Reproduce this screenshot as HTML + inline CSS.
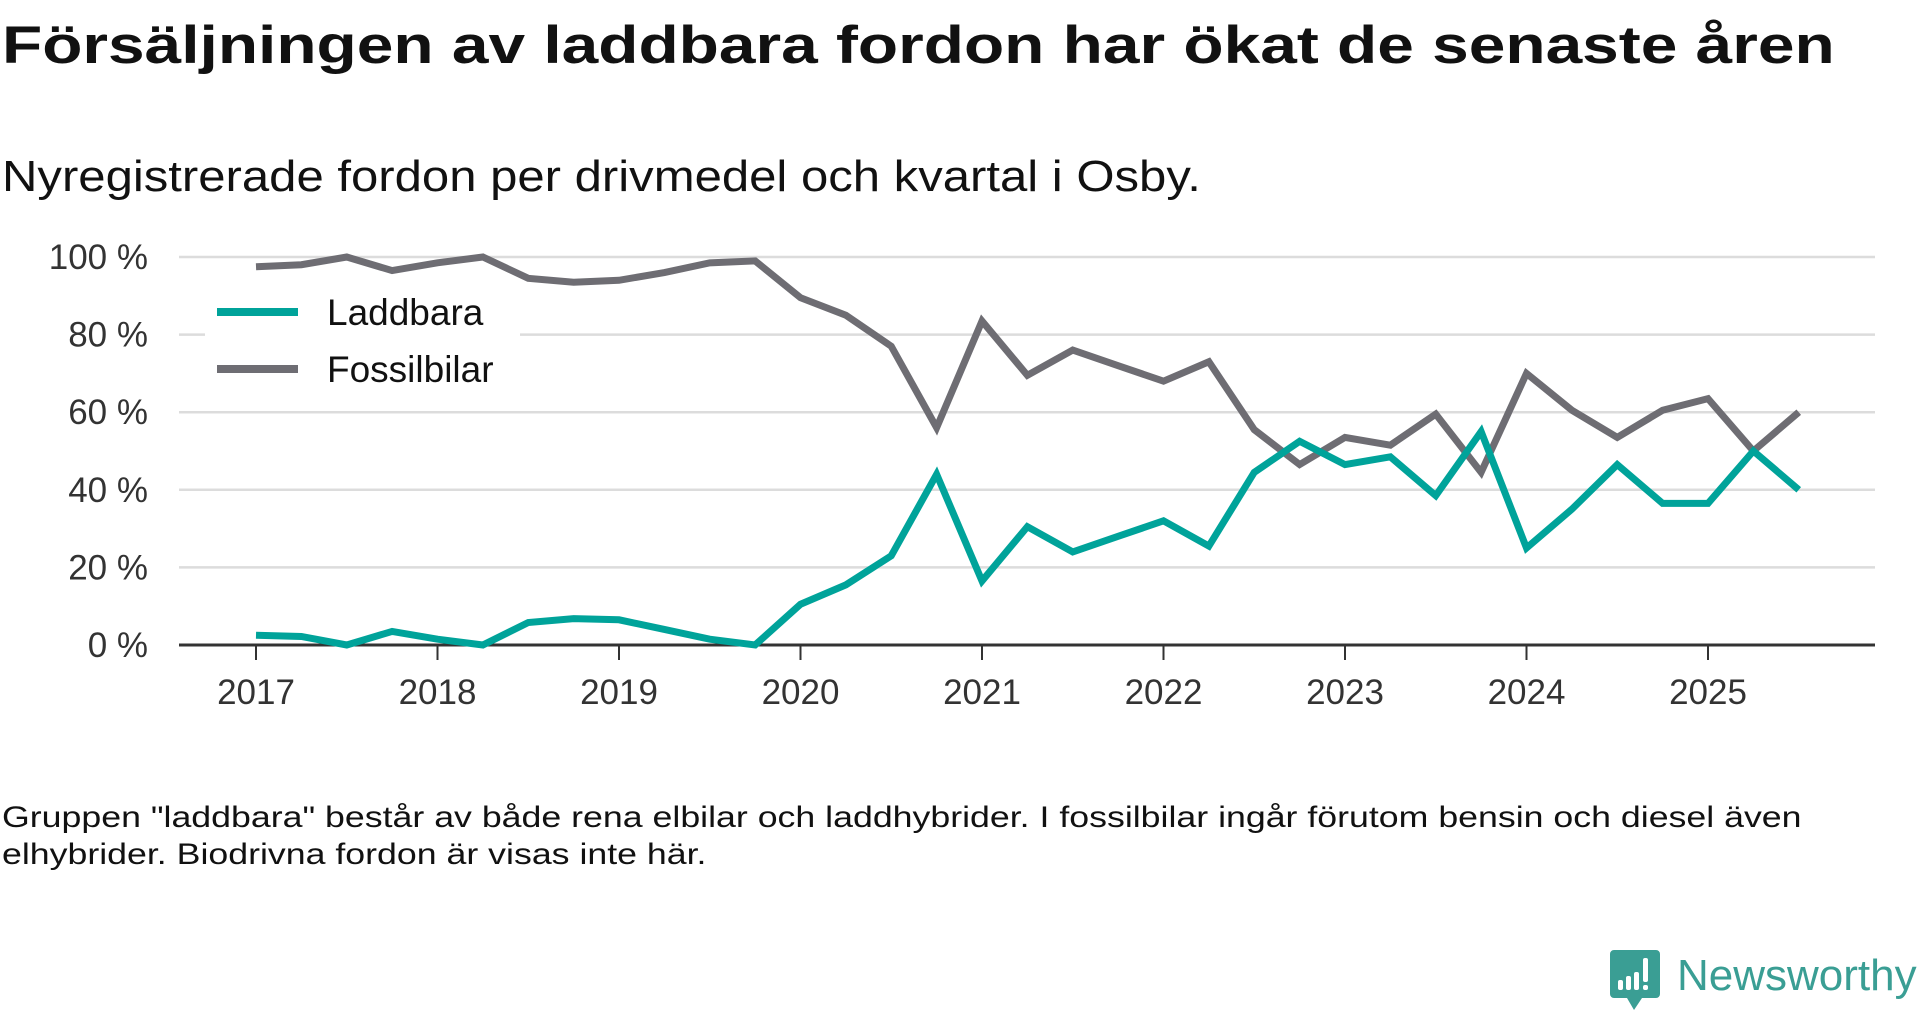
<!DOCTYPE html>
<html><head><meta charset="utf-8"><style>
body{margin:0;background:#fff;width:1920px;height:1010px;overflow:hidden;font-family:"Liberation Sans",sans-serif}
#title{position:absolute;left:2px;top:19px;font-size:53px;line-height:1;font-weight:bold;color:#111;margin:0;white-space:nowrap;transform:scaleX(1.242);transform-origin:0 0}
#sub{position:absolute;left:2px;top:155px;font-size:44px;line-height:1;color:#111;white-space:nowrap;transform:scaleX(1.115);transform-origin:0 0}
#foot{position:absolute;left:2px;top:799px;font-size:30px;line-height:37px;color:#111;white-space:nowrap;transform:scaleX(1.19);transform-origin:0 0}
</style></head><body>
<h1 id="title">Försäljningen av laddbara fordon har ökat de senaste åren</h1>
<div id="sub">Nyregistrerade fordon per drivmedel och kvartal i Osby.</div>
<svg id="chart" width="1920" height="760" style="position:absolute;left:0;top:0"></svg>
<div id="foot">Gruppen "laddbara" består av både rena elbilar och laddhybrider. I fossilbilar ingår förutom bensin och diesel även<br>elhybrider. Biodrivna fordon är visas inte här.</div>
<div style="position:absolute;left:1610px;top:950px;height:60px">
<svg width="50" height="62" style="position:absolute;left:0;top:0">
<path d="M4 0H46a4 4 0 0 1 4 4V44a4 4 0 0 1-4 4H32L24 60L17 48H4a4 4 0 0 1-4-4V4a4 4 0 0 1 4-4Z" fill="#3a9e94"/>
<rect x="8" y="30" width="5" height="10" rx="2" fill="#fff"/><rect x="16" y="26" width="5" height="14" rx="2" fill="#fff"/><rect x="24" y="22" width="5" height="18" rx="2" fill="#fff"/><rect x="33" y="8" width="5" height="24" rx="2" fill="#fff"/><rect x="33" y="35" width="5" height="5" rx="2" fill="#fff"/></svg>
<span style="position:absolute;left:67px;top:1px;font-size:44px;color:#3a9e94;font-weight:500;white-space:nowrap">Newsworthy</span>
</div>
<script>
const years=["2017","2018","2019","2020","2021","2022","2023","2024","2025"];
const yTicks=[0,20,40,60,80,100];
const laddbara=[2.5,2.2,0,3.5,1.5,0,5.8,6.8,6.5,4,1.5,0,10.5,15.5,23,44,16.5,30.5,24,28,32,25.5,44.5,52.5,46.5,48.5,38.5,55,25,35,46.5,36.5,36.5,50,40];
const fossil=[97.5,98,100,96.5,98.5,100,94.5,93.5,94,96,98.5,99,89.5,85,77,56,83.5,69.5,76,72,68,73,55.5,46.5,53.5,51.5,59.5,44.5,70,60.5,53.5,60.5,63.5,50,60];
const svg=document.getElementById('chart');const NS="http://www.w3.org/2000/svg";
const x0=256,yearW=181.5,yb=645,yt=257,left=179,right=1875;
const X=i=>x0+i*yearW/4, Y=v=>yb-(v/100)*(yb-yt);
function mk(t,a){const e=document.createElementNS(NS,t);for(const k in a)e.setAttribute(k,a[k]);svg.appendChild(e);return e;}
yTicks.forEach(v=>{
 if(v>0){const g=mk('line',{x1:left,x2:right,y1:Y(v),y2:Y(v),stroke:'#dcdcdc','stroke-width':2.5});
 
 }
 const t=mk('text',{x:148,y:Y(v)+12,'text-anchor':'end','font-size':35,fill:'#333','font-family':'Liberation Sans, sans-serif'});t.textContent=v+' %';
 
 
});
years.forEach((y,i)=>{const xx=X(i*4);
 const tk=mk('line',{x1:xx,x2:xx,y1:yb,y2:yb+15,stroke:'#333','stroke-width':2});
 
 
 const t=mk('text',{x:xx,y:704,'text-anchor':'middle','font-size':35,fill:'#333','font-family':'Liberation Sans, sans-serif'});t.textContent=y;
 
 
});
const ax=mk('line',{x1:left,x2:right,y1:yb,y2:yb,stroke:'#333','stroke-width':3});


function series(d,c,n){const p=mk('polyline',{points:d.map((v,i)=>X(i)+','+Y(v)).join(' '),fill:'none',stroke:c,'stroke-width':7,'stroke-linejoin':'miter'});
 
 }
series(fossil,'#6e6d73','fossilbilar-line');
series(laddbara,'#00a39a','laddbara-line');
const lb=mk('rect',{x:205,y:280,width:315,height:110,fill:'#fff'});


[['Laddbara','#00a39a',312],['Fossilbilar','#6e6d73',369]].forEach(([n,c,y])=>{
 const l=mk('line',{x1:217,x2:298,y1:y,y2:y,stroke:c,'stroke-width':8});
 
 
 const t=mk('text',{x:327,y:y+13,'font-size':37,fill:'#111','font-family':'Liberation Sans, sans-serif'});t.textContent=n;
 
 
});
</script>
</body></html>
